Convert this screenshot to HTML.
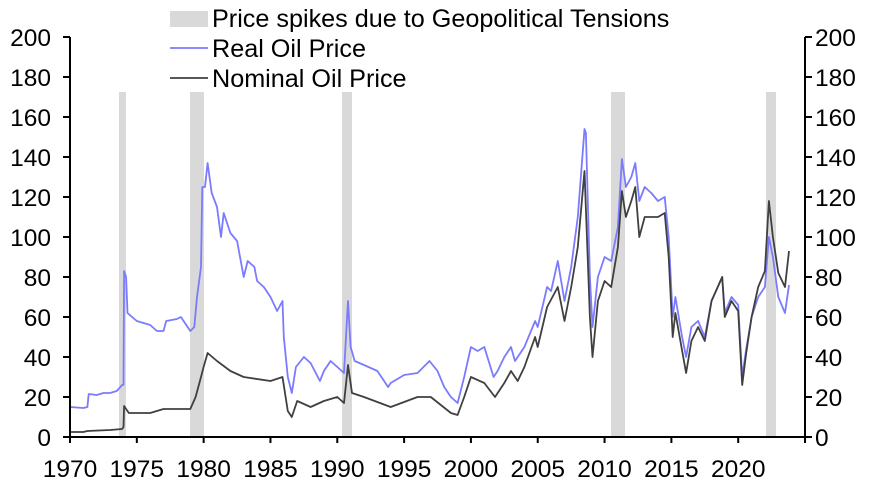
<!DOCTYPE html><html><head><style>body{margin:0;background:#fff}svg{display:block;font-family:"Liberation Sans",Arial,sans-serif}</style></head><body>
<svg id="s" width="875" height="487" xmlns="http://www.w3.org/2000/svg">
<g fill="#d9d9d9">
<rect x="119" y="92" width="7" height="345"/>
<rect x="190" y="92" width="14" height="345"/>
<rect x="342" y="92" width="10" height="345"/>
<rect x="611" y="92" width="14" height="345"/>
<rect x="766" y="92" width="10" height="345"/>
</g>
<path id="real" fill="none" stroke="#7b7bff" stroke-width="1.8" stroke-linejoin="round"/>
<path id="nom" fill="none" stroke="#404040" stroke-width="1.8" stroke-linejoin="round"/>
<g stroke="#000" stroke-width="2" fill="none">
<path d="M70,37V437H805V37"/>
<g id="ticks"></g>
</g>
<g id="labels" font-size="24.5" fill="#000"></g>
<rect x="170" y="11" width="38" height="16" fill="#d9d9d9"/>
<line x1="170" y1="48" x2="208" y2="48" stroke="#7b7bff" stroke-width="1.8"/>
<line x1="170" y1="78" x2="208" y2="78" stroke="#404040" stroke-width="1.8"/>
<g font-size="25.2" fill="#000">
<text x="212" y="27">Price spikes due to Geopolitical Tensions</text>
<text x="212" y="57">Real Oil Price</text>
<text x="212" y="87">Nominal Oil Price</text>
</g>
</svg>
<script>
const X=y=>70+(y-1970)*13.364,Y=v=>437-v*2;
const real=[1970,15,1971,14.5,1971.3,15,1971.4,21.5,1972,21,1972.5,22,1973,22,1973.5,23,1973.9,26,1974.0,26,1974.05,83,1974.2,80,1974.3,62,1975,58,1976,56,1976.5,53,1977,53,1977.2,58,1978,59,1978.3,60,1978.8,55,1979,53,1979.3,55,1979.5,70,1979.8,85,1979.9,125,1980.1,125,1980.3,137,1980.6,122,1981,115,1981.3,100,1981.5,112,1982,102,1982.5,98,1983,80,1983.3,88,1983.8,85,1984,78,1984.5,75,1985,70,1985.5,63,1985.9,68,1986.0,50,1986.3,30,1986.6,22,1986.9,35,1987.5,40,1988,37,1988.7,28,1989,33,1989.5,38,1990,35,1990.5,32,1990.8,68,1991,45,1991.3,38,1992,36,1993,33,1993.8,25,1994,27,1995,31,1996,32,1996.9,38,1997.5,33,1998,25,1998.5,20,1999,17,1999.5,30,2000,45,2000.5,43,2001,45,2001.7,30,2002,33,2002.5,40,2003,45,2003.3,38,2004,45,2004.8,58,2005,55,2005.7,75,2006,73,2006.5,88,2007,68,2007.5,85,2008,110,2008.5,154,2008.6,152,2008.9,80,2009.1,55,2009.5,80,2010,90,2010.5,88,2011,105,2011.3,139,2011.6,125,2012,130,2012.3,137,2012.6,118,2013,125,2013.5,122,2014,118,2014.5,120,2014.8,100,2015.1,60,2015.3,70,2015.8,50,2016.1,40,2016.5,55,2017,58,2017.5,50,2018,68,2018.8,80,2019,62,2019.5,70,2020,66,2020.3,30,2020.6,44,2021,60,2021.5,70,2022,75,2022.3,100,2022.6,90,2023,70,2023.5,62,2023.8,76];
const nom=[1970,2.5,1971,2.5,1971.3,3,1973,3.5,1973.9,4,1974.0,5,1974.05,15.5,1974.4,12,1976,12,1977,14,1979,14,1979.4,20,1979.8,30,1980,35,1980.3,42,1981,38,1982,33,1983,30,1985,28,1985.9,30,1986.3,13,1986.6,10,1987,18,1988,15,1989,18,1990,20,1990.5,17,1990.8,36,1991.1,22,1992,20,1994,15,1996,20,1997,20,1998.5,12,1999,11,1999.5,20,2000,30,2001,27,2001.8,20,2002.5,27,2003,33,2003.5,28,2004,35,2004.8,50,2005,45,2005.7,65,2006.5,75,2007,58,2007.5,75,2008,95,2008.5,133,2008.9,60,2009.1,40,2009.5,68,2010,78,2010.5,75,2011,95,2011.3,123,2011.6,110,2012,118,2012.3,125,2012.6,100,2013,110,2014,110,2014.5,112,2014.8,90,2015.1,50,2015.3,62,2016.1,32,2016.5,48,2017,55,2017.5,48,2018,68,2018.8,80,2019,60,2019.5,68,2020,63,2020.3,26,2020.6,42,2021,60,2021.5,75,2022,83,2022.3,118,2022.6,100,2023,82,2023.5,75,2023.8,93];
function p(a){let d='';for(let i=0;i<a.length;i+=2)d+=(i?'L':'M')+X(a[i]).toFixed(1)+','+Y(a[i+1]).toFixed(1);return d}
document.getElementById('real').setAttribute('d',p(real));
document.getElementById('nom').setAttribute('d',p(nom));
let t='',l='';
for(let v=0;v<=200;v+=20){const y=Y(v);t+=`<path d="M63,${y}H70M805,${y}H812"/>`;
l+=`<text x="51" y="${y+9}" text-anchor="end">${v}</text><text x="815" y="${y+9}">${v}</text>`;}
for(let yr=1970;yr<=2025;yr+=5){const x=X(yr);t+=`<path d="M${x},437V443"/>`;if(yr<2025)l+=`<text x="${x}" y="477" text-anchor="middle">${yr}</text>`;}
document.getElementById('ticks').innerHTML=t;document.getElementById('labels').innerHTML=l;
</script>
</body></html>
